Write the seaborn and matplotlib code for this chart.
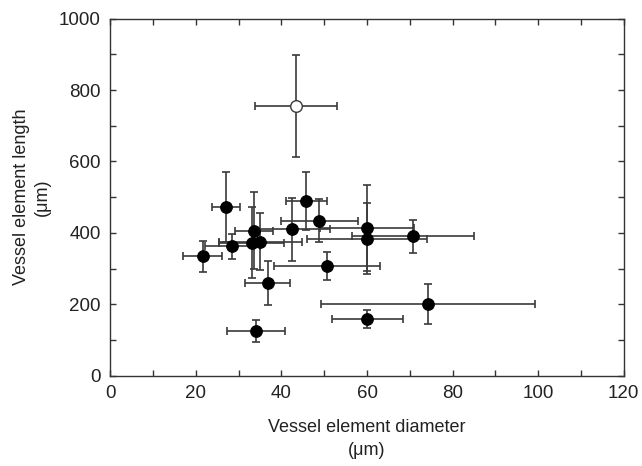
import numpy as np
import pandas as pd
import seaborn as sns
import matplotlib.pyplot as plt
from matplotlib.ticker import MultipleLocator

sns.set_style('ticks')
plt.rcParams.update({'font.size': 13, 'font.family': ['Liberation Sans', 'DejaVu Sans']})

# filled points: species means with +/- errors
diameter = [27.0, 21.6, 28.5, 33.6, 33.1, 35.0, 36.8, 34.0, 42.4, 45.8,
            48.8, 50.6, 60.0, 60.0, 60.0, 70.7, 74.3]
length = [471, 334, 362, 406, 372, 375, 259, 125, 410, 489,
          434, 308, 414, 384, 159, 390, 201]
diameter_err = [3.2, 4.6, 6.5, 4.5, 7.6, 9.7, 5.3, 6.8, 9.0, 4.8,
                9.0, 12.4, 11.0, 14.0, 8.3, 14.3, 25.0]
length_err = [98, 43, 36, 107, 99, 80, 61, 32, 88, 81,
              60, 39, 121, 100, 25, 47, 56]

# the open point
open_diameter = [43.4]
open_length = [754]
open_diameter_err = [9.5]
open_length_err = [143]

df = pd.DataFrame({'diameter': diameter, 'length': length})
df_open = pd.DataFrame({'diameter': open_diameter, 'length': open_length})

fig, ax = plt.subplots(figsize=(6.42, 4.66), dpi=100)
fig.subplots_adjust(left=0.172, right=0.9714, top=0.960, bottom=0.194)

bar_kw = dict(fmt='none', ecolor='#3a3a3a', elinewidth=1.2, capsize=3, capthick=1.2, zorder=2)
ax.errorbar(diameter, length, xerr=diameter_err, yerr=length_err, **bar_kw)
ax.errorbar(open_diameter, open_length, xerr=open_diameter_err, yerr=open_length_err, **bar_kw)

sns.scatterplot(data=df, x='diameter', y='length', ax=ax, color='black', s=70,
                edgecolor='black', linewidth=0.8, zorder=3, legend=False)
sns.scatterplot(data=df_open, x='diameter', y='length', ax=ax, color='white', s=70,
                edgecolor='#3a3a3a', linewidth=1.0, zorder=3, legend=False)

ax.set_xlim(0, 120)
ax.set_ylim(0, 1000)
ax.xaxis.set_major_locator(MultipleLocator(20))
ax.xaxis.set_minor_locator(MultipleLocator(10))
ax.yaxis.set_major_locator(MultipleLocator(200))
ax.yaxis.set_minor_locator(MultipleLocator(100))
ax.tick_params(which='both', direction='in', top=True, right=True, color='#333333',
               width=1.0, labelsize=13.5, pad=7, labelcolor='#222222')
ax.tick_params(which='major', length=4.5)
ax.tick_params(which='minor', length=4.5)
for s in ax.spines.values():
    s.set_color('#333333')
    s.set_linewidth(1.0)

ax.set_xlabel('Vessel element diameter\n(μm)', fontsize=13, labelpad=12,
              linespacing=1.45, color='#222222')
ax.set_ylabel('Vessel element length\n(μm)', fontsize=13, labelpad=6,
              linespacing=1.3, color='#222222')

plt.savefig('out.png', dpi=100)
